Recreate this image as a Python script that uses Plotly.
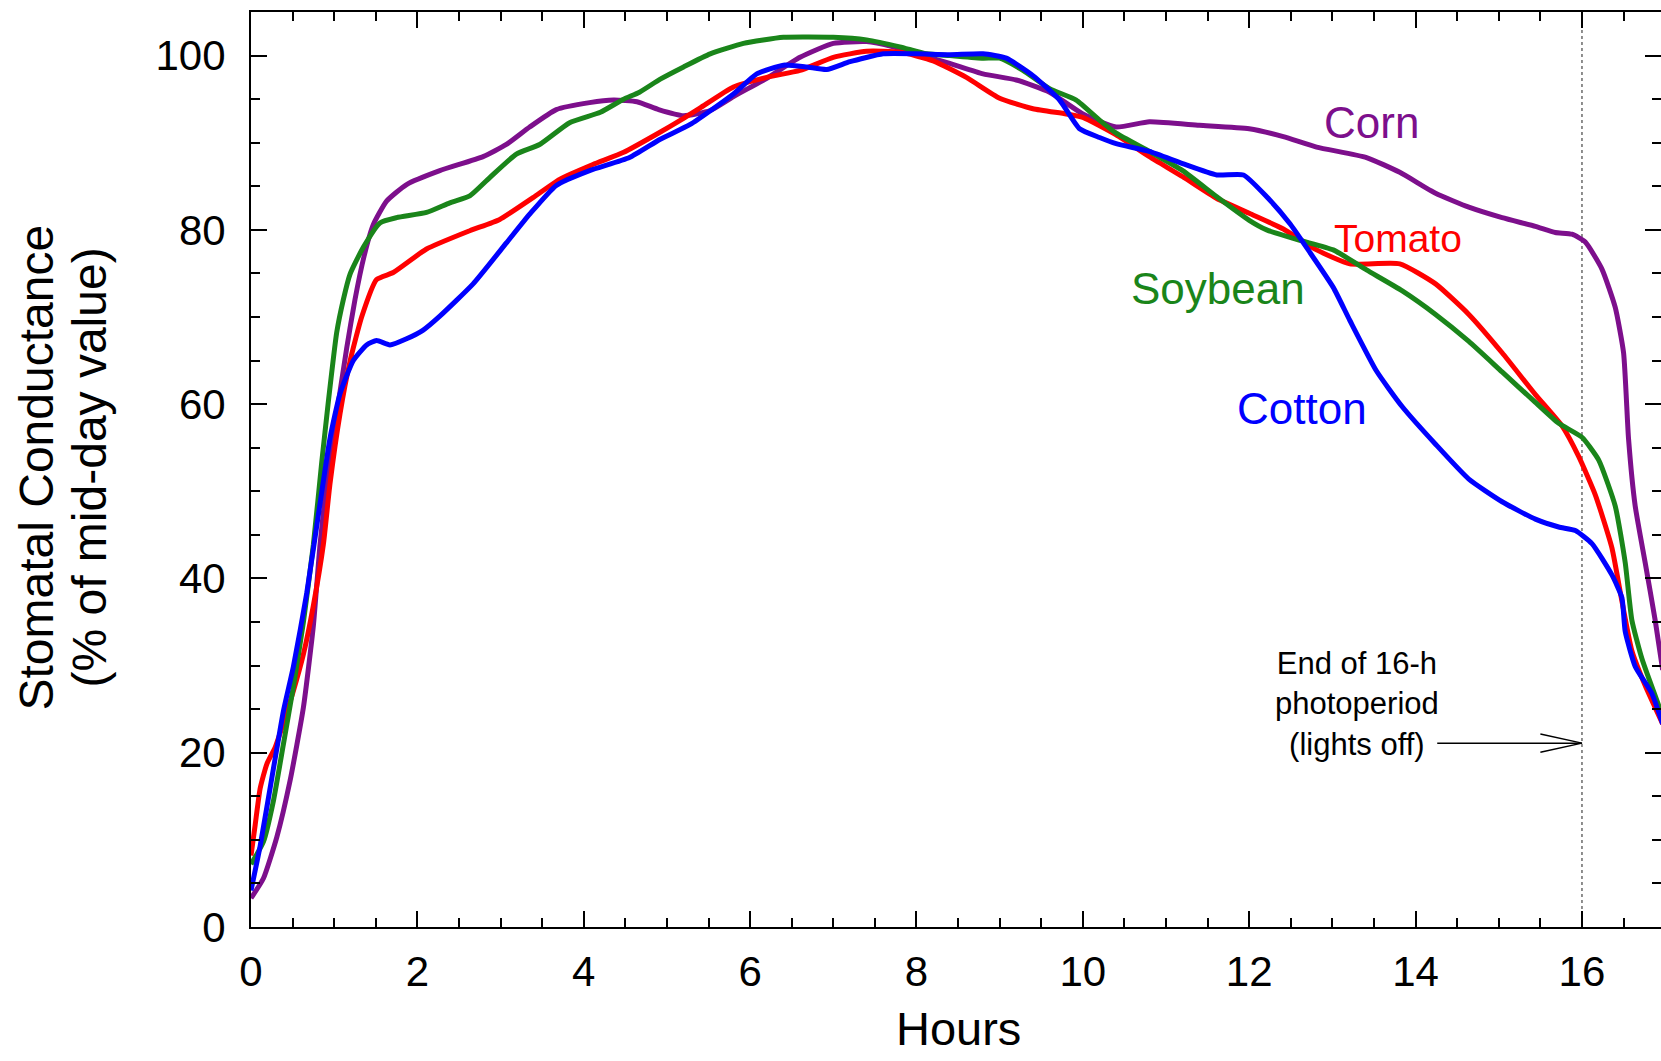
import plotly.graph_objects as go

# Diurnal stomatal conductance, expressed as % of the mid-day value
corn_hours = [0, 0.15, 0.31, 0.47, 0.63, 0.75, 0.83, 0.91, 1.03, 1.15, 1.25, 1.36, 1.47, 1.63, 1.87,
              2.27, 2.79, 3.07, 3.35, 3.67, 4.07, 4.36, 4.64, 4.9, 5.2, 5.52, 5.8, 6.2, 6.6, 7.0,
              7.4, 7.72, 8.0, 8.4, 8.8, 9.2, 9.6, 10.0, 10.4, 10.8, 11.4, 12.0, 12.41, 12.81, 13.41,
              13.81, 14.24, 14.64, 15.04, 15.44, 15.68, 15.88, 16.04, 16.24, 16.4, 16.5, 16.56,
              16.64, 16.76, 16.88, 16.97]
corn_pct = [3.3, 5.6, 10.3, 16.8, 25.2, 34.6, 43.9, 50.9, 58.9, 66.4, 72.0, 77.0, 80.6, 83.3, 85.2,
            86.8, 88.4, 89.8, 91.8, 93.8, 94.6, 94.9, 94.7, 93.8, 93.1, 93.7, 95.3, 97.4, 99.8, 101.4,
            101.6, 101.0, 100.2, 99.1, 97.9, 97.2, 95.8, 93.3, 91.8, 92.4, 92.0, 91.6, 90.7, 89.5, 88.3,
            86.6, 84.2, 82.6, 81.4, 80.4, 79.7, 79.5, 78.6, 75.5, 71.1, 65.9, 56.0,
            48.3, 41.8, 35.2, 29.5]

tomato_hours = [0, 0.05, 0.11, 0.19, 0.29, 0.39, 0.51, 0.63, 0.75, 0.87, 0.95, 1.07, 1.19, 1.33,
                1.51, 1.71, 2.11, 2.63, 2.99, 3.39, 3.71, 4.11, 4.48, 4.88, 5.2, 5.4, 5.8, 6.2, 6.6,
                7.0, 7.4, 7.8, 8.2, 8.6, 9.0, 9.4, 9.8, 10.0, 10.4, 10.8, 11.2, 11.61, 12.0, 12.41,
                12.81, 13.21, 13.81, 14.24, 14.64, 15.04, 15.44, 15.76, 15.96, 16.16, 16.36, 16.48,
                16.6, 16.76, 16.97]
tomato_pct = [8.2, 11.7, 15.9, 18.7, 20.6, 23.4, 27.1, 31.3, 36.9, 43.9, 50.9, 58.9, 64.9, 70.0,
              74.3, 75.1, 77.8, 79.9, 81.2, 83.7, 85.8, 87.5, 88.9, 91.0, 92.8, 94.0, 96.4, 97.5, 98.3,
              99.8, 100.5, 100.4, 99.4, 97.5, 95.1, 93.9, 93.3, 92.9, 90.9, 88.4, 86.1, 83.6, 81.9, 80.1,
              77.7, 76.1, 76.1, 73.8, 70.3, 65.9, 61.1, 57.5, 54.0, 49.6, 43.5, 37.4,
              31.7, 27.7, 23.3]

soybean_hours = [0, 0.15, 0.27, 0.39, 0.51, 0.63, 0.75, 0.85, 0.93, 1.03, 1.11, 1.19, 1.35, 1.55,
                 1.75, 2.11, 2.39, 2.63, 2.87, 3.19, 3.47, 3.83, 4.2, 4.48, 4.67, 4.92, 5.2, 5.52,
                 5.92, 6.4, 7.0, 7.4, 7.8, 8.12, 8.4, 8.8, 9.0, 9.28, 9.6, 9.92, 10.2, 10.4, 10.8,
                 11.2, 11.61, 12.0, 12.21, 12.61, 13.01, 13.41, 13.84, 14.24, 14.64, 15.04, 15.44,
                 15.72, 16.0, 16.2, 16.4, 16.52, 16.6, 16.72, 16.97]
soybean_pct = [7.2, 9.8, 14.5, 21.0, 27.6, 35.0, 43.9, 53.3, 60.3, 68.2, 72.0, 74.9, 78.0, 80.8,
               81.4, 82.0, 83.1, 83.9, 86.0, 88.7, 89.8, 92.3, 93.5, 95.0, 95.8, 97.3, 98.7, 100.2,
               101.4, 102.1, 102.1, 101.8, 101.0, 100.2, 100.0, 99.7, 99.7, 98.3, 96.2, 94.9, 92.6, 91.1, 89.0,
               86.8, 83.8, 81.1, 80.0, 78.8, 77.7, 75.4, 73.0, 70.3, 67.2, 63.7, 60.2,
               57.8, 56.2, 53.6, 48.3, 41.8, 35.2, 30.8, 24.2]

cotton_hours = [0, 0.11, 0.27, 0.39, 0.51, 0.67, 0.83, 0.95, 1.07, 1.23, 1.39, 1.51, 1.67, 1.87,
                2.07, 2.27, 2.67, 3.07, 3.35, 3.67, 4.07, 4.55, 4.92, 5.28, 5.8, 6.08, 6.4, 6.68,
                6.92, 7.2, 7.6, 8.0, 8.4, 8.8, 9.08, 9.4, 9.72, 9.96, 10.2, 10.4, 10.8, 11.2, 11.61,
                11.93, 12.21, 12.49, 12.73, 13.01, 13.21, 13.53, 13.84, 14.24, 14.64, 15.04, 15.44,
                15.72, 15.92, 16.12, 16.36, 16.48, 16.52, 16.64, 16.84, 16.97]
cotton_pct = [4.2, 9.3, 18.2, 24.8, 29.9, 38.3, 48.6, 56.1, 61.2, 65.0, 66.8, 67.3, 66.8, 67.5,
              68.5, 70.1, 73.8, 78.5, 81.8, 85.1, 86.8, 88.3, 90.4, 92.1, 95.6, 97.9, 98.9, 98.7,
              98.4, 99.3, 100.2, 100.2, 100.1, 100.2, 99.7, 97.7, 94.9, 91.6, 90.6, 89.9, 89.0, 87.6, 86.3,
              86.3, 83.8, 80.7, 77.4, 73.4, 69.6, 63.8, 59.7, 55.4, 51.4, 48.8, 46.8,
              45.9, 45.5, 44.0, 40.4, 37.8, 33.9, 29.9, 26.8, 23.3]

# Crop name, hours, values, colour, label position (hours, %), label font size
crops = [
    ("Corn", corn_hours, corn_pct, "#7D0F8C", 13.47, 92.3, 44),
    ("Tomato", tomato_hours, tomato_pct, "#FF0000", 13.79, 79.0, 39),
    ("Soybean", soybean_hours, soybean_pct, "#1A851A", 11.62, 73.3, 44),
    ("Cotton", cotton_hours, cotton_pct, "#0000FF", 12.64, 59.5, 44),
]

LIGHTS_OFF_HOUR = 16
FONT = "Liberation Sans, Arial, sans-serif"

fig = go.Figure()
for name, hrs, pct, color, *_ in crops:
    fig.add_trace(go.Scatter(
        x=hrs, y=pct, mode="lines", name=name,
        line=dict(color=color, width=5, shape="spline", smoothing=0.5),
        showlegend=False,
    ))

# direct labels next to each curve
for name, _, _, color, lx, ly, fs in crops:
    fig.add_annotation(x=lx, y=ly, text=name, showarrow=False,
                       font=dict(family=FONT, size=fs, color=color))

# end of photoperiod marker
fig.add_shape(type="line", xref="x", yref="paper", x0=LIGHTS_OFF_HOUR, x1=LIGHTS_OFF_HOUR,
              y0=0, y1=1, line=dict(color="#6a6a6a", width=1.5, dash="dot"), layer="below")

arrow_y = 21.1
fig.add_annotation(x=13.3, y=25.6, text="End of 16-h<br>photoperiod<br>(lights off)",
                   showarrow=False, font=dict(family=FONT, size=31, color="black"))
fig.add_shape(type="line", x0=14.26, x1=LIGHTS_OFF_HOUR, y0=arrow_y, y1=arrow_y,
              line=dict(color="black", width=1.5))
fig.add_shape(type="path",
              path=f"M {LIGHTS_OFF_HOUR - 0.5},{arrow_y + 1.05} L {LIGHTS_OFF_HOUR},{arrow_y} "
                   f"L {LIGHTS_OFF_HOUR - 0.5},{arrow_y - 1.05}",
              line=dict(color="black", width=1.5))

axis_common = dict(
    showline=True, linecolor="black", linewidth=2, mirror="ticks",
    ticks="inside", ticklen=16, tickwidth=2, tickcolor="black",
    showgrid=False, zeroline=False, automargin=False,
    tickfont=dict(family=FONT, size=42, color="black"),
)

fig.update_xaxes(
    range=[0, 16.95], dtick=2, tick0=0,
    minor=dict(dtick=0.5, ticks="inside", ticklen=9, tickwidth=2, tickcolor="black", showgrid=False),
    ticklabelstandoff=7,
    **axis_common,
)
fig.update_yaxes(
    range=[0, 105], dtick=20, tick0=0,
    minor=dict(dtick=5, ticks="inside", ticklen=9, tickwidth=2, tickcolor="black", showgrid=False),
    ticklabelstandoff=15,
    **axis_common,
)

# axis titles
fig.add_annotation(text="Hours", xref="paper", yref="paper", x=0.502, y=0, yshift=-101,
                   xanchor="center", yanchor="middle", showarrow=False,
                   font=dict(family=FONT, size=47, color="black"))
fig.add_annotation(text="Stomatal Conductance", xref="paper", yref="paper", x=0, xshift=-215,
                   y=0.5, yshift=2, xanchor="center", yanchor="middle", textangle=-90,
                   showarrow=False, font=dict(family=FONT, size=48, color="black"))
fig.add_annotation(text="(% of mid-day value)", xref="paper", yref="paper", x=0, xshift=-162,
                   y=0.5, yshift=2, xanchor="center", yanchor="middle", textangle=-90,
                   showarrow=False, font=dict(family=FONT, size=48, color="black"))

fig.update_layout(
    width=1661, height=1061,
    margin=dict(l=251, r=0, t=12, b=134),
    paper_bgcolor="white", plot_bgcolor="white",
)

fig.write_html("out.html")
